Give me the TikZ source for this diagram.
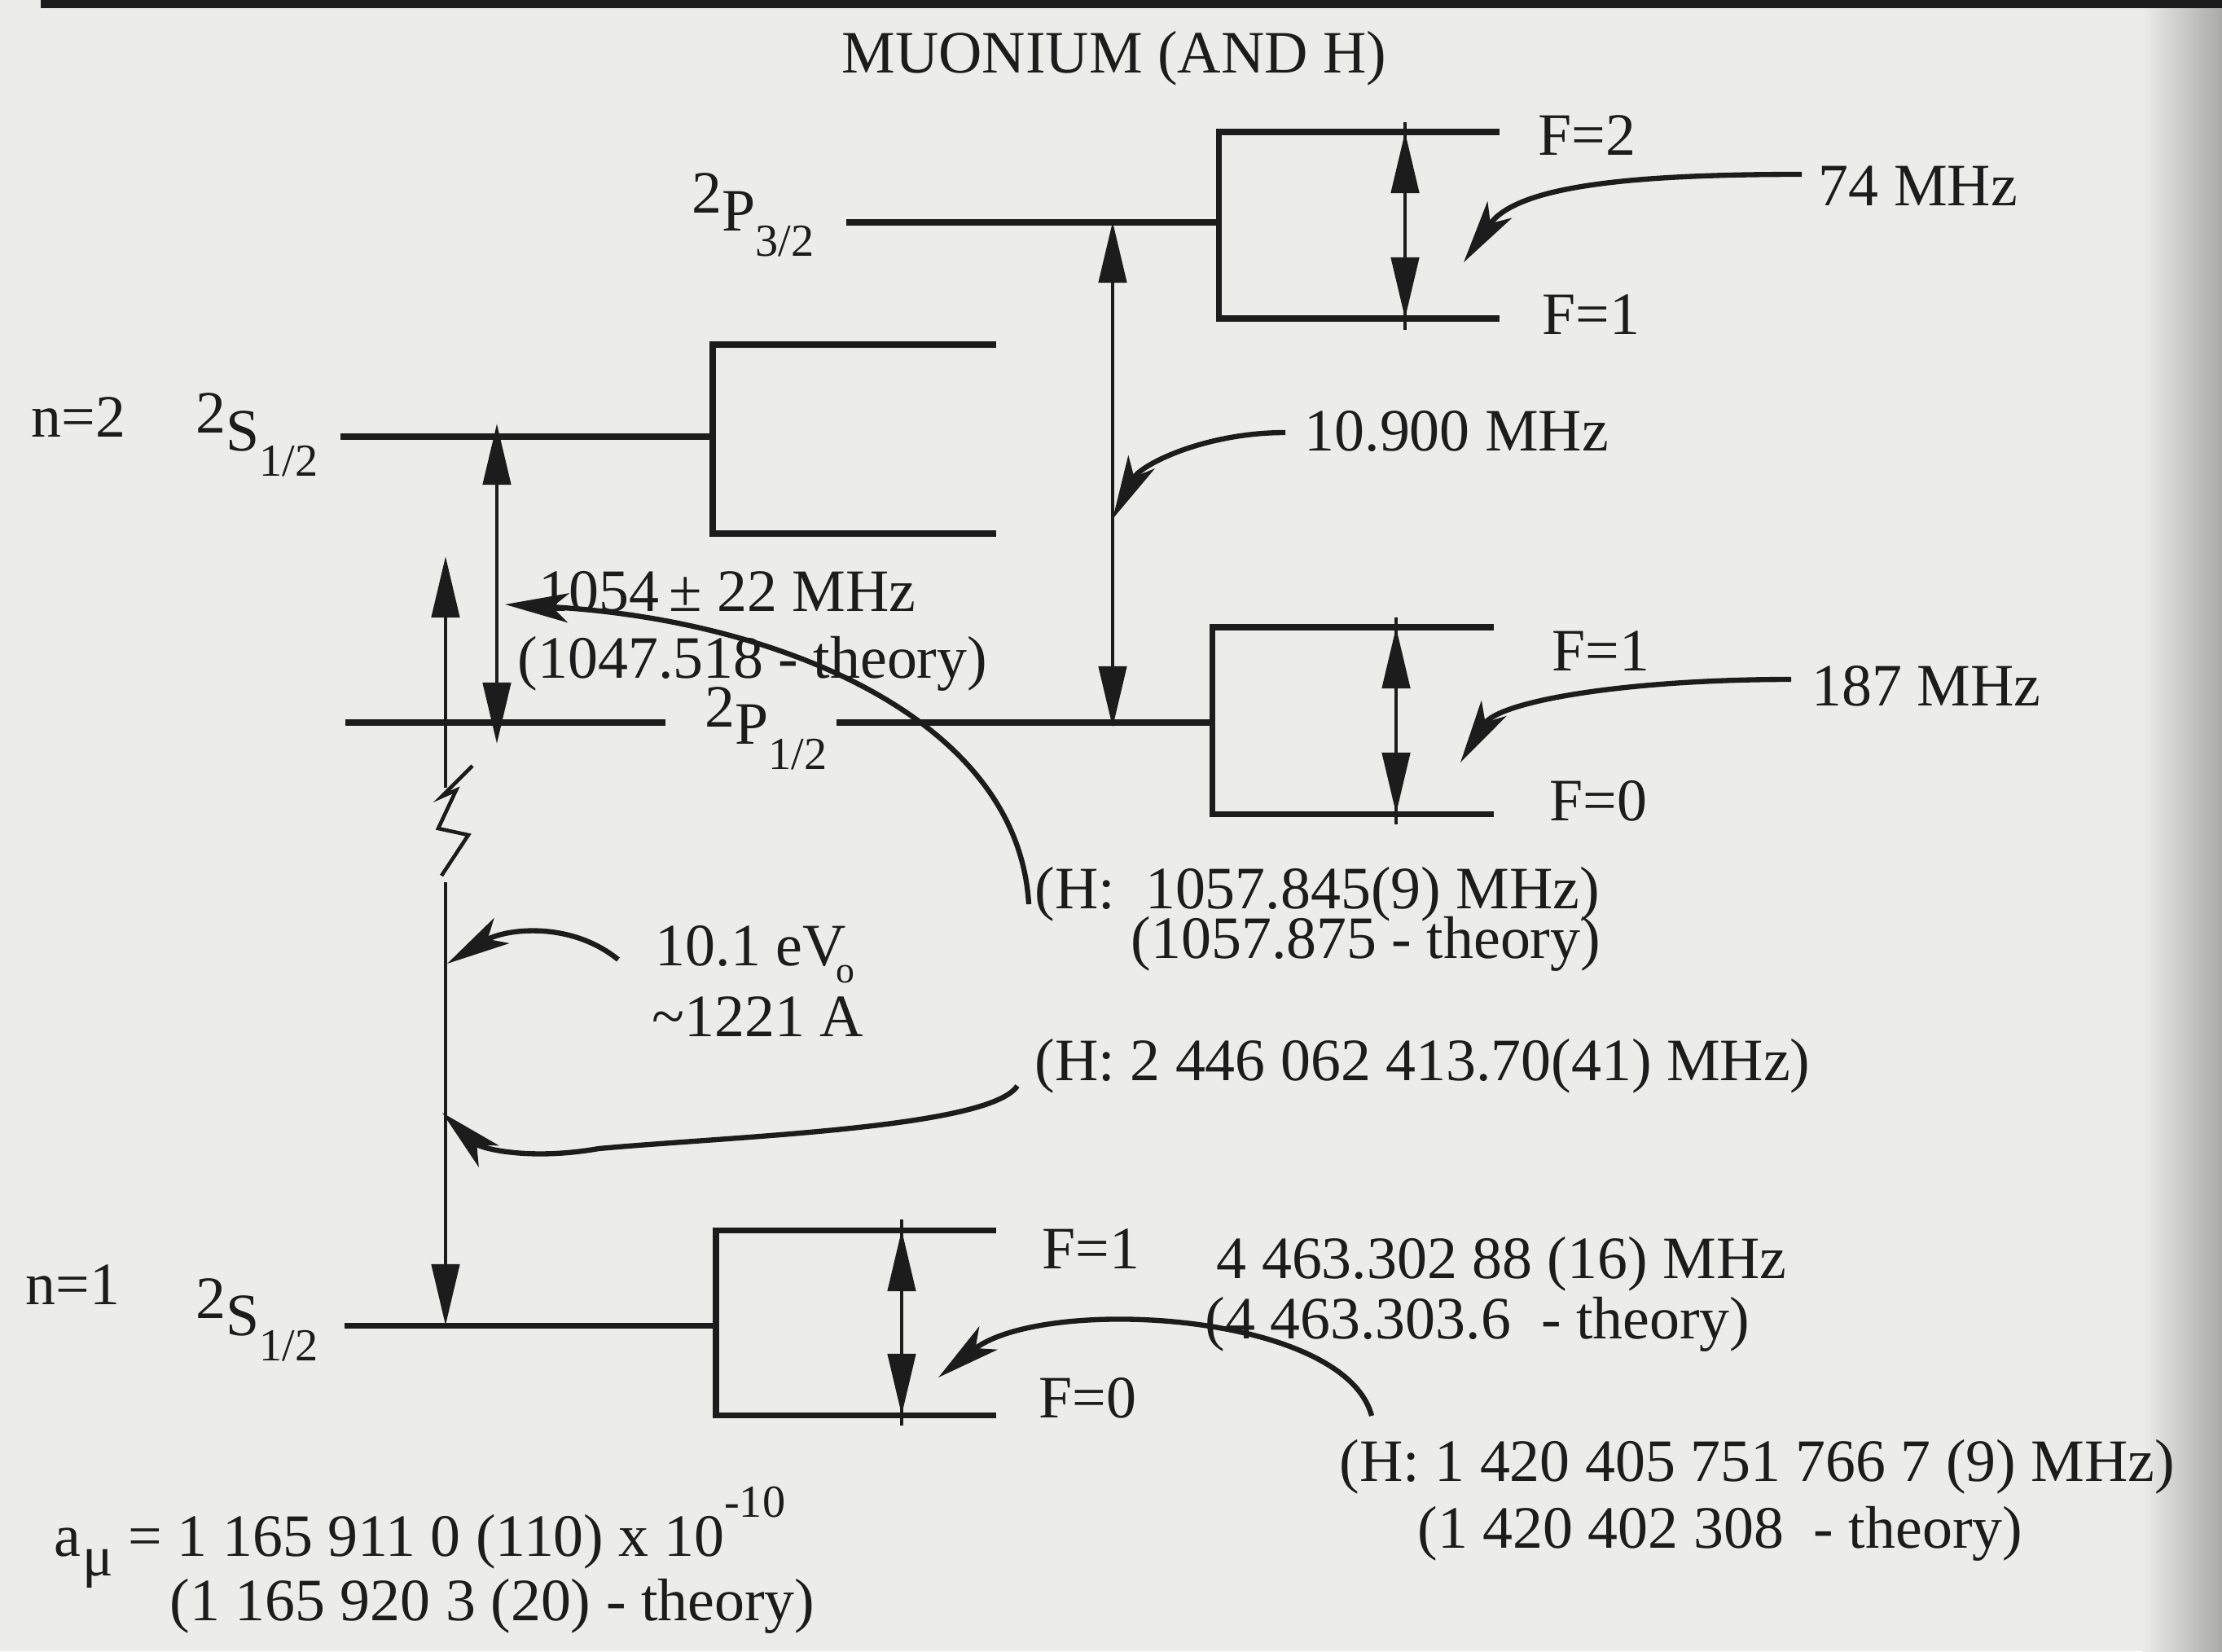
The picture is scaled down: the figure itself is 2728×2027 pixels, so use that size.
\documentclass[tikz,border=0pt]{standalone}
\usepackage{fontspec}
\setmainfont{Liberation Serif}
\usetikzlibrary{arrows.meta}
\definecolor{papier}{RGB}{236,236,234}
\definecolor{tinte}{RGB}{28,28,28}
\newcommand{\term}[3]{\raisebox{0.21cm}{#1}#2\raisebox{-0.31cm}{\fontsize{16}{16}\selectfont #3}}

\begin{document}
\begin{tikzpicture}[x=0.01cm, y=-0.01cm,
    niveau/.style={line width=2pt, tinte},
    duenn/.style={line width=1.3pt, tinte},
    doppel/.style={duenn, {Triangle[length=0.75cm,width=0.34cm]}-{Triangle[length=0.75cm,width=0.34cm]}},
    hoch/.style={duenn, -{Triangle[length=0.75cm,width=0.34cm]}},
    zeiger/.style={line width=1.8pt, tinte, -{Stealth[length=0.78cm,width=0.36cm,inset=0.2cm]}},
    txt/.style={anchor=base west, inner sep=0pt, text=tinte, font=\fontsize{21}{21}\selectfont}]
    \useasboundingbox (0,0) rectangle (2728,2027);
    \fill[papier] (0,0) rectangle (2728,2027);
    \shade[left color=papier, right color=papier!72!black] (2630,0) rectangle (2728,2027);
    \draw[line width=0.1cm, tinte] (50,5) -- (2728,5);
    \node[txt, anchor=base] (titel) at (1368,89) {MUONIUM (AND H)};

    % Niveaus n=2
    \draw[niveau] (1039,273) -- (1496,273);
    \draw[niveau] (1841,162) -- (1496,162) -- (1496,391) -- (1841,391);
    \draw[niveau] (418,536) -- (875,536);
    \draw[niveau] (1223,423) -- (875,423) -- (875,655) -- (1223,655);
    \draw[niveau] (424,887) -- (817,887);
    \draw[niveau] (1027,887) -- (1488,887);
    \draw[niveau] (1834,770) -- (1488,770) -- (1488,999) -- (1834,999);
    % Grundzustand n=1
    \draw[niveau] (423,1627) -- (879,1627);
    \draw[niveau] (1223,1510) -- (879,1510) -- (879,1737) -- (1223,1737);

    \node[txt] (tn2) at (38,536) {n=2};
    \node[txt] (ts2) at (240,553) {\term{2}{S}{1/2}};
    \node[txt] (tp3) at (849,283) {\term{2}{P}{3/2}};
    \node[txt] (tp1) at (865,913) {\term{2}{P}{1/2}};
    \node[txt] (tn1) at (31,1601) {n=1};
    \node[txt] (ts1) at (240,1639) {\term{2}{S}{1/2}};
    \node[txt] (tF2) at (1888,190) {F=2};
    \node[txt] (tF1a) at (1893,410) {F=1};
    \node[txt] (tF1b) at (1905,823) {F=1};
    \node[txt] (tF0b) at (1902,1007) {F=0};
    \node[txt] (tF1c) at (1279,1557) {F=1};
    \node[txt] (tF0c) at (1275,1740) {F=0};

    \node[txt] (t74) at (2232,252) {74 MHz};
    \node[txt] (t187) at (2224,866) {187 MHz};
    \node[txt] (t109) at (1601,553) {10.900 MHz};
    \node[txt] (tL1) at (661,750) {1054\,± 22 MHz};
    \node[txt] (tL2) at (635,832) {(1047.518 - theory)};
    \node[txt] (tH1) at (1270,1115) {(H:\ \ 1057.845(9) MHz)};
    \node[txt] (tH1t) at (1388,1176) {(1057.875 - theory)};
    \node[txt] (tLy1) at (804,1185) {10.1 eV\kern-0.12cm\raisebox{-0.21cm}{\fontsize{13}{13}\selectfont o}};
    \node[txt] (tLy2) at (800,1272) {\textasciitilde1221 A};
    \node[txt] (tH2) at (1270,1326) {(H: 2 446 062 413.70(41) MHz)};
    \node[txt] (tHF) at (1493,1569) {4 463.302 88 (16) MHz};
    \node[txt] (tHFt) at (1479,1643) {(4 463.303.6\ \ - theory)};
    \node[txt] (tH3) at (1644,1818) {(H: 1 420 405 751 766 7 (9) MHz)};
    \node[txt] (tH3t) at (1740,1900) {(1 420 402 308\ \ - theory)};
    \node[txt] (tamu) at (66,1910) {a\kern0.02cm\raisebox{-0.24cm}{\fontsize{20}{20}\selectfont μ} = 1 165 911 0 (110) x 10\raisebox{0.48cm}{\fontsize{16}{16}\selectfont -10}};
    \node[txt] (tamut) at (208,1989) {(1 165 920 3 (20) - theory)};

    % Hyperfeinpfeile
    \draw[duenn] (1725,150) -- (1725,405);
    \draw[doppel] (1725,162) -- (1725,391);
    \draw[duenn] (1714,758) -- (1714,1012);
    \draw[doppel] (1714,770) -- (1714,999);
    \draw[duenn] (1107,1497) -- (1107,1750);
    \draw[doppel] (1107,1510) -- (1107,1737);
    % Lamb-Verschiebung und Feinstruktur
    \draw[doppel] (1366,272) -- (1366,893);
    \draw[doppel] (610,520) -- (610,913);
    % Lyman-alpha mit Bruch
    \draw[hoch] (547,967) -- (547,683);
    \draw[duenn] (580,940) -- (542,978) -- (560,970) -- (538,1017) -- (575,1025) -- (542,1075);
    \draw[hoch] (547,1083) -- (547,1627);

    \coordinate (s74) at (2212,214);
    \coordinate (e74) at (1797,322);
    \coordinate (s187) at (2199,834);
    \coordinate (e187) at (1793,936);
    \coordinate (s109) at (1578,531);
    \coordinate (e109) at (1366,637);
    \coordinate (sL) at (1263,1110);
    \coordinate (eL) at (620,742);
    \coordinate (sLy) at (759,1178);
    \coordinate (eLy) at (549,1183);
    \coordinate (sH2) at (1249,1333);
    \coordinate (mH2) at (735,1410);
    \coordinate (eH2) at (543,1366);
    \coordinate (sH1) at (1684,1738);
    \coordinate (eH1) at (1152,1691);
    \draw[zeiger] (s74) .. controls (1990,214) and (1860,230) .. (e74);
    \draw[zeiger] (s187) .. controls (2000,834) and (1840,860) .. (e187);
    \draw[zeiger] (s109) .. controls (1480,531) and (1400,570) .. (e109);
    \draw[zeiger] (sL) .. controls (1250,880) and (950,760) .. (eL);
    \draw[zeiger] (sLy) .. controls (700,1130) and (620,1140) .. (eLy);
    \draw[zeiger] (sH2) .. controls (1215,1385) and (900,1395) .. (mH2)
        .. controls (650,1425) and (590,1410) .. (eH2);
    \draw[zeiger] (sH1) .. controls (1650,1610) and (1280,1590) .. (eH1);
\end{tikzpicture}
\end{document}
